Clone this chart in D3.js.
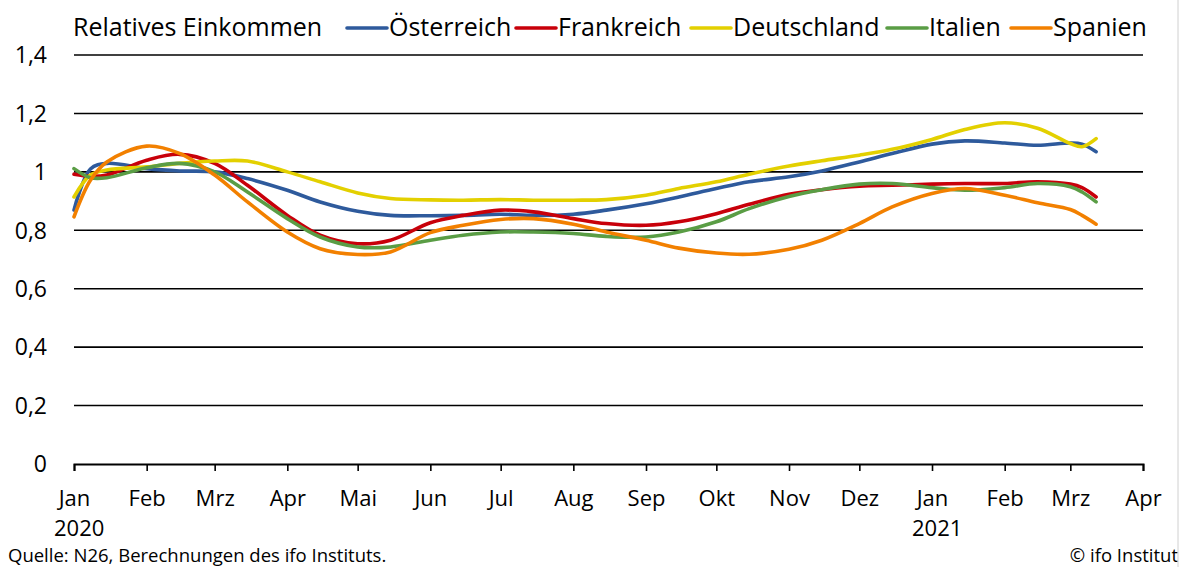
<!DOCTYPE html>
<html>
<head>
<meta charset="utf-8">
<script src="https://cdn.jsdelivr.net/npm/d3@7"></script>
<style>
  body { margin: 0; background: #fff; }
  svg { font-family: "Open Sans", Lato, sans-serif; }
</style>
</head>
<body>
<svg width="1182" height="567"></svg>
<script>
// half-monthly readings, Jan 2020 - Mar 2021
var dates = ["2020-01-01","2020-01-08","2020-01-15","2020-02-01","2020-02-15","2020-03-01","2020-03-15",
  "2020-04-01","2020-04-15","2020-05-01","2020-05-15","2020-06-01","2020-06-15","2020-07-01","2020-07-15",
  "2020-08-01","2020-08-15","2020-09-01","2020-09-15","2020-10-01","2020-10-15","2020-11-01","2020-11-15",
  "2020-12-01","2020-12-15","2021-01-01","2021-01-15","2021-02-01","2021-02-15","2021-03-01","2021-03-06","2021-03-12"];

var oesterreich = [0.869,1.010,1.029,1.011,1.003,1.000,0.977,0.937,0.897,0.865,0.851,0.850,0.851,0.855,0.851,
  0.855,0.869,0.891,0.914,0.943,0.966,0.983,1.003,1.034,1.063,1.095,1.106,1.099,1.091,1.099,1.095,1.069];
var frankreich = [0.992,0.985,0.989,1.040,1.060,1.029,0.954,0.851,0.783,0.754,0.766,0.826,0.851,0.869,0.863,
  0.840,0.823,0.817,0.829,0.857,0.889,0.923,0.939,0.951,0.954,0.958,0.960,0.960,0.966,0.958,0.946,0.914];
var deutschland = [0.914,0.989,1.006,1.017,1.029,1.037,1.037,1.000,0.966,0.928,0.909,0.904,0.903,0.905,0.903,
  0.903,0.905,0.920,0.943,0.966,0.992,1.020,1.038,1.057,1.077,1.111,1.145,1.168,1.149,1.097,1.086,1.114];
var italien = [1.011,0.980,0.980,1.014,1.029,1.000,0.931,0.840,0.777,0.743,0.743,0.766,0.783,0.794,0.794,
  0.789,0.779,0.777,0.794,0.829,0.874,0.916,0.939,0.958,0.960,0.946,0.937,0.946,0.960,0.949,0.931,0.897];
var spanien = [0.846,0.971,1.034,1.088,1.063,0.989,0.897,0.794,0.737,0.717,0.726,0.792,0.817,0.837,0.840,
  0.821,0.794,0.766,0.739,0.722,0.718,0.735,0.766,0.823,0.880,0.926,0.943,0.920,0.894,0.871,0.851,0.821];

var seriesNames = ["Österreich","Frankreich","Deutschland","Italien","Spanien"];
var seriesValues = [oesterreich, frankreich, deutschland, italien, spanien];
var seriesColors = ["#2e5a9c","#c8000a","#e3d000","#5a9d45","#f28000"];

var yTicks = [0, 0.2, 0.4, 0.6, 0.8, 1, 1.2, 1.4];
var monthLabels = ["Jan","Feb","Mrz","Apr","Mai","Jun","Jul","Aug","Sep","Okt","Nov","Dez"];

var svg = d3.select("svg");
var parse = d3.timeParse("%Y-%m-%d");

var x = d3.scaleTime()
    .domain([new Date(2020, 0, 1), new Date(2021, 3, 1)])
    .range([74, 1143]);
var y = d3.scaleLinear()
    .domain([0, 1.4])
    .range([464, 55]);

var fmt = d3.format(".1f");

// gridlines
svg.append("g")
    .selectAll("line")
    .data(yTicks.filter(function(d) { return d > 0; }))
    .enter().append("line")
    .attr("x1", x.range()[0]).attr("x2", x.range()[1])
    .attr("y1", function(d) { return y(d); })
    .attr("y2", function(d) { return y(d); })
    .attr("stroke", "#000").attr("stroke-width", 1.6);

// y labels
svg.append("g")
    .selectAll("text")
    .data(yTicks)
    .enter().append("text")
    .attr("x", 47)
    .attr("y", function(d) { return y(d); })
    .attr("dy", "0.36em")
    .attr("text-anchor", "end")
    .attr("font-size", 23)
    .text(function(d) { return d === 0 ? "0" : d === 1 ? "1" : fmt(d).replace(".", ","); });

// x axis
var xAxis = d3.axisBottom(x)
    .ticks(d3.timeMonth.every(1))
    .tickSize(7)
    .tickFormat(function(d) { return monthLabels[d.getMonth()]; });

var gx = svg.append("g")
    .attr("transform", "translate(0," + y(0) + ")")
    .call(xAxis);
gx.select(".domain").attr("stroke", "#000").attr("stroke-width", 2);
gx.selectAll(".tick line").attr("stroke", "#000").attr("stroke-width", 1.6);
gx.selectAll(".tick text")
    .attr("font-size", 22)
    .attr("font-family", "'Open Sans', Lato, sans-serif")
    .attr("fill", "#000")
    .attr("dy", null)
    .attr("y", 42);

// year labels under January ticks
svg.append("g")
    .selectAll("text")
    .data([new Date(2020, 0, 1), new Date(2021, 0, 1)])
    .enter().append("text")
    .attr("x", function(d) { return x(d) - 20; })
    .attr("y", 536)
    .attr("font-size", 22)
    .text(function(d) { return d.getFullYear(); });

// series
var line = d3.line()
    .x(function(d) { return x(d.date); })
    .y(function(d) { return y(d.value); })
    .curve(d3.curveCatmullRom.alpha(0.5));

seriesValues.forEach(function(vals, i) {
    var pts = vals.map(function(v, j) { return {date: parse(dates[j]), value: v}; });
    svg.append("path")
        .datum(pts)
        .attr("fill", "none")
        .attr("stroke", seriesColors[i])
        .attr("stroke-width", 3.6)
        .attr("stroke-linejoin", "round")
        .attr("stroke-linecap", "round")
        .attr("d", line);
});

// legend
svg.append("text")
    .attr("x", 73).attr("y", 36)
    .attr("font-size", 25)
    .text("Relatives Einkommen");

var legendX = [347, 516, 691, 887, 1011];
var leg = svg.append("g")
    .selectAll("g")
    .data(seriesNames)
    .enter().append("g")
    .attr("transform", function(d, i) { return "translate(" + legendX[i] + ",0)"; });
leg.append("line")
    .attr("x1", 0).attr("x2", 40)
    .attr("y1", 28).attr("y2", 28)
    .attr("stroke", function(d, i) { return seriesColors[i]; })
    .attr("stroke-width", 3.6)
    .attr("stroke-linecap", "round");
leg.append("text")
    .attr("x", 42).attr("y", 36)
    .attr("font-size", 25)
    .text(function(d) { return d; });

// footer
svg.append("text")
    .attr("x", 8).attr("y", 562)
    .attr("font-size", 18.5)
    .text("Quelle: N26, Berechnungen des ifo Instituts.");
svg.append("text")
    .attr("x", 1178).attr("y", 562)
    .attr("text-anchor", "end")
    .attr("font-size", 18.5)
    .text("© ifo Institut");

// right border
svg.append("line")
    .attr("x1", 1178).attr("x2", 1178)
    .attr("y1", 0).attr("y2", 567)
    .attr("stroke", "#d0d0d0").attr("stroke-width", 1);
</script>
</body>
</html>
